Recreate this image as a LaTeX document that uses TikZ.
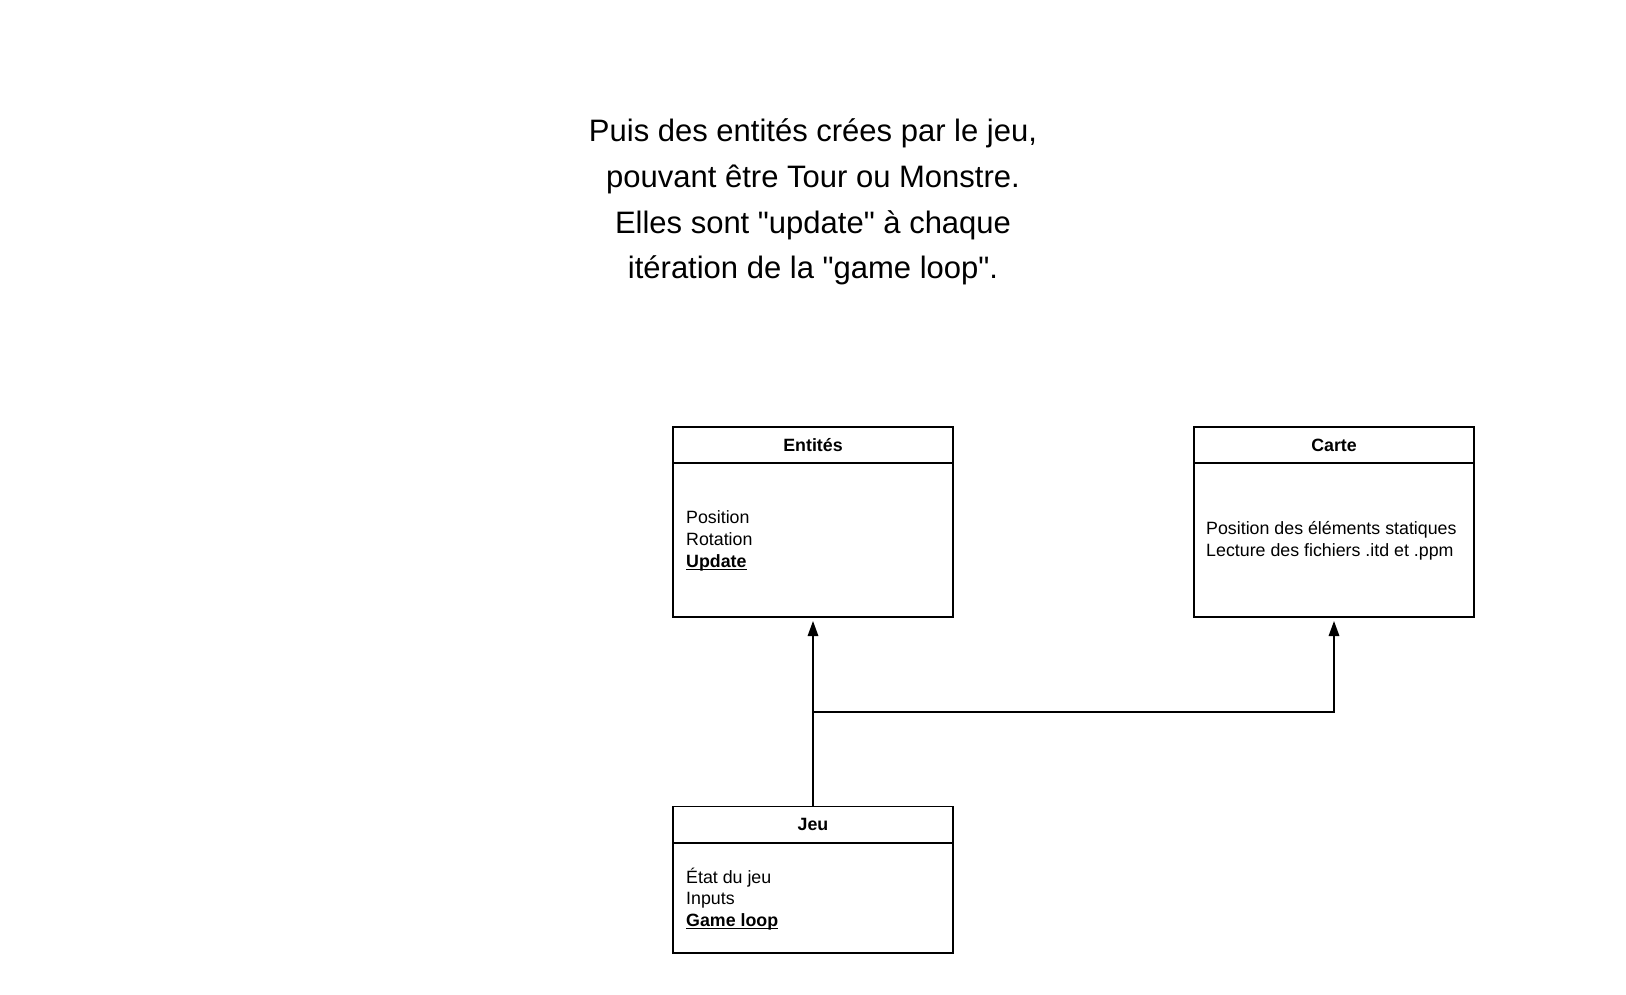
\documentclass[tikz,border=0pt]{standalone}
\usepackage{fontspec}
\setmainfont{Liberation Sans}[Ligatures=TeXOff]
\usetikzlibrary{arrows.meta}
\newcommand{\ulbold}[1]{\setbox0\hbox{\textbf{#1}}\rlap{\raisebox{-2.6pt}{\rule{\wd0}{1.1pt}}}\box0}
\begin{document}
\begin{tikzpicture}[x=1pt,y=-1pt,
  box/.style={draw,line width=1.6pt,minimum width=280pt,inner sep=0pt,outer sep=0pt},
  hdr/.style={box,minimum height=36pt,font=\fontsize{17.8}{21}\selectfont\bfseries},
  bodytext/.style={anchor=west,align=left,inner sep=0pt,font=\fontsize{17.8}{21.8}\selectfont},
  link/.style={line width=1.6pt,-{Triangle[length=15pt,width=10.5pt]},shorten >=4pt}]
\useasboundingbox (0,0) rectangle (1626,994);
\node[align=center,font=\fontsize{31}{45.6}\selectfont] (title) at (813,202)
  {Puis des entités crées par le jeu,\\pouvant être Tour ou Monstre.\\Elles sont "update" à chaque\\itération de la "game loop".};
% Entités
\node[hdr] (enth) at (813,445) {Entités};
\node[box,minimum height=154pt] (entb) at (813,540) {};
\node[bodytext] (entt) at (686,541) {Position\\Rotation\\\ulbold{Update}};
% Carte
\node[hdr] (carh) at (1334,445) {Carte};
\node[box,minimum height=154pt] (carb) at (1334,540) {};
\node[bodytext] (cart) at (1206,541) {Position des éléments statiques\\Lecture des fichiers .itd et .ppm};
% Jeu
\node[hdr] (jeuh) at (813,824.5) {Jeu};
\node[box,minimum height=110pt] (jeub) at (813,898) {};
\node[bodytext] (jeut) at (686,899) {État du jeu\\Inputs\\\ulbold{Game loop}};
% connectors
\coordinate (junc) at (813,712);
\draw[link] (jeuh.north) -- (entb.south);
\draw[link] (junc) -| (carb.south);
\end{tikzpicture}
\end{document}
